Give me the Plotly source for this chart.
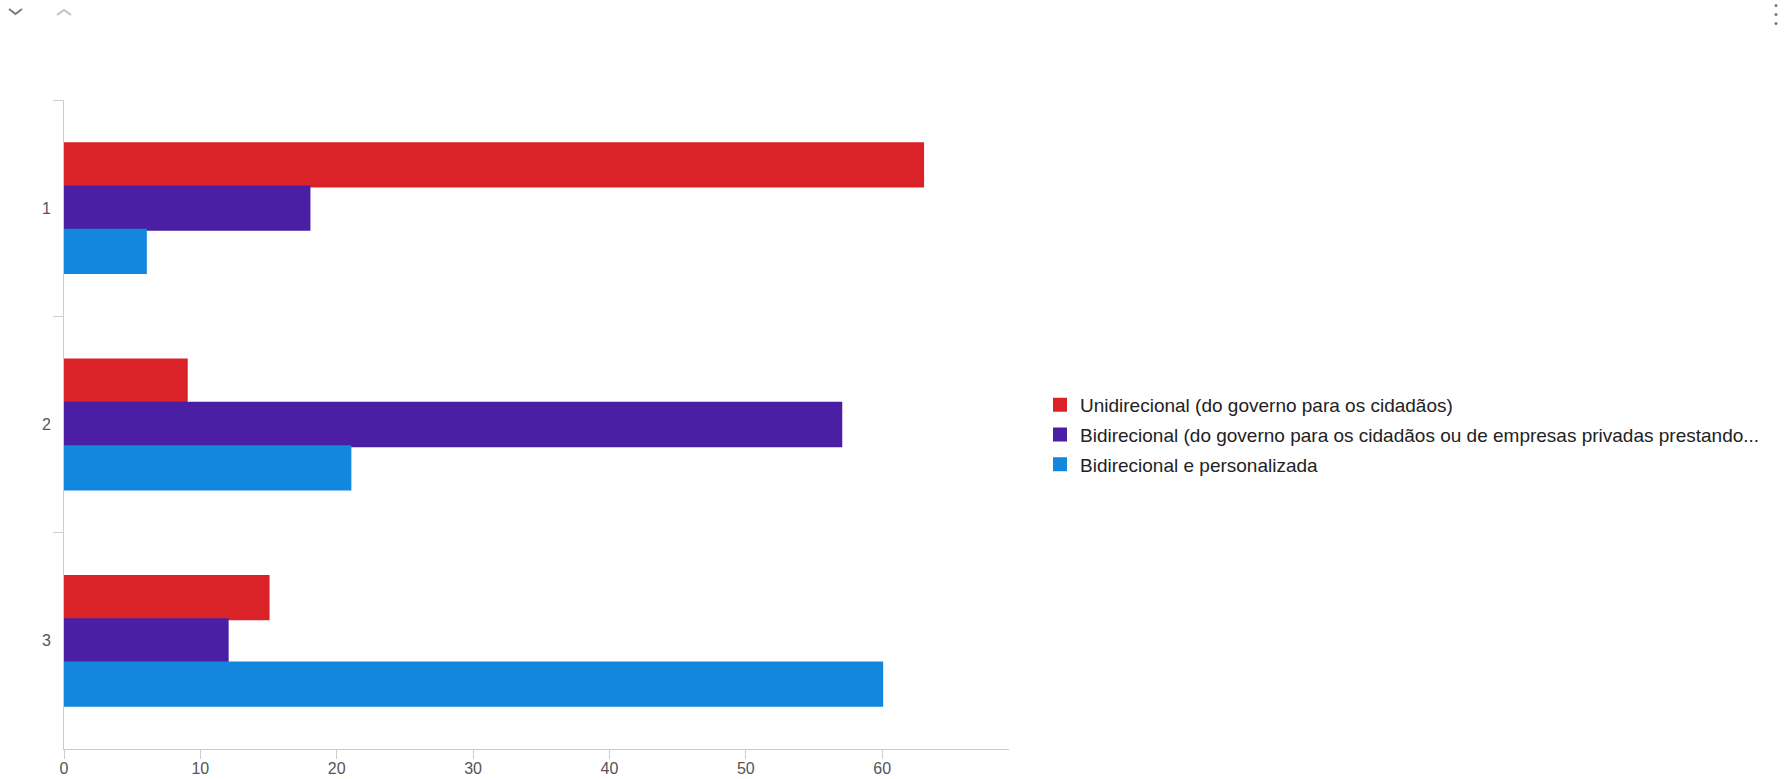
import plotly.graph_objects as go

categories = ["1", "2", "3"]
series_names = [
    "Unidirecional (do governo para os cidadãos)",
    "Bidirecional (do governo para os cidadãos ou de empresas privadas prestando...",
    "Bidirecional e personalizada",
]
unidirecional = [63, 9, 15]
bidirecional = [18, 57, 12]
personalizada = [6, 21, 60]
colors = ["#da2229", "#4b1fa3", "#1287dd"]
x_ticks = [0, 10, 20, 30, 40, 50, 60]

W, H = 1792, 779
L, R, T, B = 64, 783, 100, 30
PW, PH = W - L - R, H - T - B

fig = go.Figure()
for i, (name, vals, col) in enumerate(zip(series_names, [unidirecional, bidirecional, personalizada], colors)):
    fig.add_trace(go.Bar(
        y=categories, x=vals, name=name, orientation="h", legendgroup=f"g{i}",
        marker=dict(color=col, line=dict(color=col, width=2)),
    ))

def px(x):
    return (x - L) / PW

def py(y):
    return (H - B - y) / PH

shapes = [
    dict(type="path", xref="paper", yref="paper",
         path=f"M{px(9)},{py(9)} L{px(15.5)},{py(14)} L{px(22)},{py(9)}",
         line=dict(color="#7a7a7a", width=2)),
    dict(type="path", xref="paper", yref="paper",
         path=f"M{px(57)},{py(15)} L{px(64)},{py(10)} L{px(71)},{py(15)}",
         line=dict(color="#c4c4c4", width=2)),
]
for cy in [5.5, 14.5, 23.5]:
    shapes.append(dict(type="circle", xref="paper", yref="paper",
                       x0=px(1774.5), x1=px(1777.5), y0=py(cy + 1.5), y1=py(cy - 1.5),
                       fillcolor="#7a7a7a", line=dict(width=0)))

fig.update_layout(
    width=W, height=H, autosize=False,
    margin=dict(l=L, r=R, t=T, b=B, pad=0, autoexpand=False),
    paper_bgcolor="white", plot_bgcolor="white",
    font=dict(family="Liberation Sans, Arial, sans-serif", color="#333"),
    barmode="group", bargap=0.4, bargroupgap=0,
    showlegend=True,
    legend=dict(
        x=px(1040), y=py(435), xanchor="left", yanchor="middle",
        traceorder="grouped", tracegroupgap=2, font=dict(size=19, color="#222"),
        bgcolor="rgba(0,0,0,0)", borderwidth=0,
    ),
    xaxis=dict(
        range=[0, 63 * 1.1], tickvals=x_ticks, ticktext=[str(v) for v in x_ticks],
        showgrid=False, zeroline=False, showline=True, linecolor="#cccccc", linewidth=1,
        ticks="outside", ticklen=9, tickcolor="#cccccc", tickwidth=1,
        tickfont=dict(size=16, color="#555"), ticklabelstandoff=-4, automargin=False,
    ),
    yaxis=dict(
        autorange="reversed", type="category", showgrid=False, zeroline=False,
        showline=True, linecolor="#cccccc", linewidth=1,
        ticks="outside", tickson="boundaries", ticklen=10, tickcolor="#cccccc", tickwidth=1,
        tickfont=dict(size=16, color="#555"), ticklabelstandoff=9, automargin=False,
    ),
    shapes=shapes,
)

fig.write_html(
    "out.html",
    config={"displayModeBar": False},
    post_script="document.body.style.margin='0px';document.body.style.overflow='hidden';",
)
